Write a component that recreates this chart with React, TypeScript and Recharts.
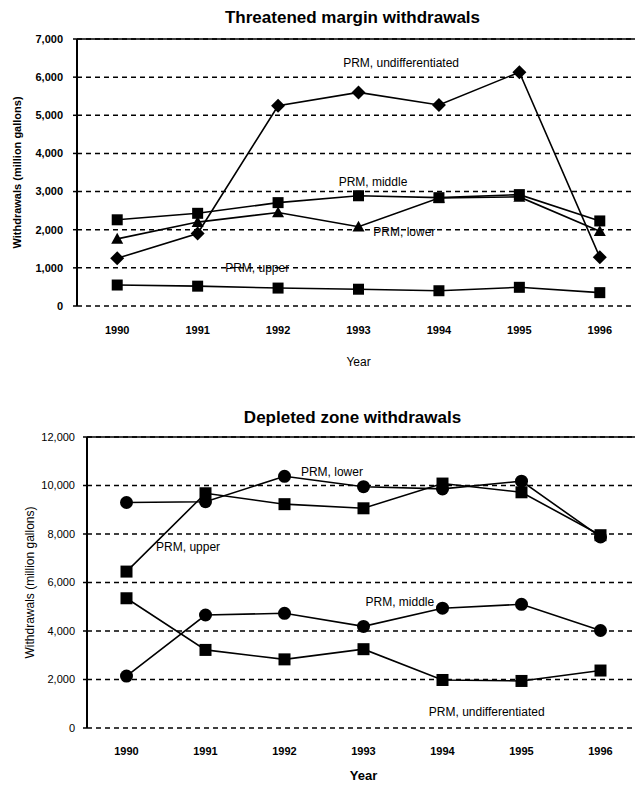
import React from "react";
import {
  LineChart,
  Line,
  XAxis,
  YAxis,
  CartesianGrid,
  ReferenceLine,
  ReferenceDot,
} from "recharts";

// years on the x axis
const years = [1990, 1991, 1992, 1993, 1994, 1995, 1996];
const bandEdges = [1990.5, 1991.5, 1992.5, 1993.5, 1994.5, 1995.5, 1996.5];

// Threatened margin withdrawals (million gallons)
const tmUndiff = [1250, 1900, 5250, 5600, 5270, 6130, 1280];
const tmMiddle = [2260, 2430, 2710, 2890, 2840, 2920, 2230];
const tmLower = [1760, 2200, 2450, 2080, 2830, 2860, 1960];
const tmUpper = [550, 520, 470, 440, 400, 490, 350];
const tmTicks = [0, 1000, 2000, 3000, 4000, 5000, 6000, 7000];

// Depleted zone withdrawals (million gallons)
const dzLower = [9300, 9330, 10380, 9950, 9860, 10180, 7880];
const dzUpper = [6450, 9680, 9230, 9060, 10080, 9720, 7950];
const dzMiddle = [2140, 4660, 4730, 4190, 4940, 5100, 4020];
const dzUndiff = [5350, 3220, 2830, 3250, 1980, 1940, 2370];
const dzTicks = [0, 2000, 4000, 6000, 8000, 10000, 12000];

const tmData = years.map((year, i) => ({
  year,
  undiff: tmUndiff[i],
  middle: tmMiddle[i],
  lower: tmLower[i],
  upper: tmUpper[i],
}));

const dzData = years.map((year, i) => ({
  year,
  undiff: dzUndiff[i],
  middle: dzMiddle[i],
  lower: dzLower[i],
  upper: dzUpper[i],
}));

const FONT = "'Liberation Sans', Arial, sans-serif";
const fmt = (v: number) => v.toLocaleString("en-US");

// marker shapes
const square = (size: number) => (p: any) => {
  if (p.cx == null || p.cy == null) return <g key={`sq-${p.index}`} />;
  return (
    <rect
      key={`sq-${p.index}`}
      x={p.cx - size / 2}
      y={p.cy - size / 2}
      width={size}
      height={size}
      fill="#000"
    />
  );
};

const circle = (r: number) => (p: any) => {
  if (p.cx == null || p.cy == null) return <g key={`ci-${p.index}`} />;
  return <circle key={`ci-${p.index}`} cx={p.cx} cy={p.cy} r={r} fill="#000" />;
};

const diamond = (r: number) => (p: any) => {
  if (p.cx == null || p.cy == null) return <g key={`di-${p.index}`} />;
  const { cx, cy } = p;
  return (
    <path
      key={`di-${p.index}`}
      d={`M${cx},${cy - r}L${cx + r},${cy}L${cx},${cy + r}L${cx - r},${cy}Z`}
      fill="#000"
    />
  );
};

const triangle = (r: number) => (p: any) => {
  if (p.cx == null || p.cy == null) return <g key={`tr-${p.index}`} />;
  const { cx, cy } = p;
  return (
    <path
      key={`tr-${p.index}`}
      d={`M${cx},${cy - r}L${cx + r},${cy + r * 0.8}L${cx - r},${cy + r * 0.8}Z`}
      fill="#000"
    />
  );
};

const lineProps = {
  stroke: "#000",
  strokeWidth: 1.6,
  isAnimationActive: false,
  activeDot: false as const,
};

const noteLabel = (value: string) => ({
  value,
  position: "center" as const,
  fill: "#000",
  fontSize: 12,
  fontFamily: FONT,
});

const Title: React.FC<{ text: string; top: number }> = ({ text, top }) => (
  <div
    style={{
      position: "absolute",
      top,
      left: 60,
      width: 585,
      textAlign: "center",
      fontFamily: FONT,
      fontWeight: "bold",
      fontSize: 17,
      lineHeight: "20px",
    }}
  >
    {text}
  </div>
);

const App: React.FC = () => {
  return (
    <div
      style={{
        position: "absolute",
        left: 0,
        top: 0,
        width: 635,
        height: 785,
        overflow: "hidden",
        background: "#fff",
      }}
    >
      <Title text="Threatened margin withdrawals" top={8} />
      <div style={{ position: "absolute", left: 0, top: 0 }}>
        <LineChart
          width={640}
          height={385}
          data={tmData}
          margin={{ top: 39, right: 0, left: 0, bottom: 0 }}
        >
          <CartesianGrid
            xAxisId="lbl"
            vertical={false}
            stroke="#000"
            strokeWidth={1.5}
            strokeDasharray="5 4"
          />
          <XAxis
            xAxisId="marks"
            dataKey="year"
            type="number"
            domain={[1989.5, 1996.5]}
            ticks={bandEdges}
            tickFormatter={() => ""}
            height={0}
            axisLine={{ stroke: "#000", strokeWidth: 2 }}
            tickLine={{ stroke: "#000", strokeWidth: 1.5 }}
            tickSize={4}
          />
          <XAxis
            xAxisId="lbl"
            dataKey="year"
            type="number"
            domain={[1989.5, 1996.5]}
            ticks={years}
            axisLine={false}
            tickLine={false}
            tickMargin={14}
            height={79}
            tick={{ fill: "#000", fontSize: 11, fontWeight: "bold", fontFamily: FONT }}
            label={{
              value: "Year",
              position: "insideBottom",
              offset: 19,
              fill: "#000",
              fontSize: 12,
              fontFamily: FONT,
            }}
          />
          <YAxis
            domain={[0, 7000]}
            ticks={tmTicks}
            width={77}
            tickFormatter={fmt}
            axisLine={{ stroke: "#000", strokeWidth: 2 }}
            tickLine={{ stroke: "#000", strokeWidth: 1.5 }}
            tickSize={4}
            tickMargin={10}
            tick={{ fill: "#000", fontSize: 11, fontWeight: "bold", fontFamily: FONT }}
            label={{
              value: "Withdrawals (million gallons)",
              angle: -90,
              position: "insideLeft",
              offset: 17,
              style: { textAnchor: "middle" },
              fill: "#000",
              fontSize: 11,
              fontWeight: "bold",
              fontFamily: FONT,
            }}
          />
          <ReferenceLine xAxisId="lbl" y={7000} stroke="#000" strokeWidth={1.5} />
          <Line xAxisId="lbl" dataKey="upper" dot={square(11)} {...lineProps} />
          <Line xAxisId="lbl" dataKey="lower" dot={triangle(6)} {...lineProps} />
          <Line xAxisId="lbl" dataKey="middle" dot={square(11)} {...lineProps} />
          <Line xAxisId="lbl" dataKey="undiff" dot={diamond(7)} {...lineProps} />
          <ReferenceDot xAxisId="lbl" x={1993.53} y={6380} r={0} label={noteLabel("PRM, undifferentiated")} />
          <ReferenceDot xAxisId="lbl" x={1993.18} y={3250} r={0} label={noteLabel("PRM, middle")} />
          <ReferenceDot xAxisId="lbl" x={1993.57} y={1940} r={0} label={noteLabel("PRM, lower")} />
          <ReferenceDot xAxisId="lbl" x={1991.74} y={1000} r={0} label={noteLabel("PRM, upper")} />
        </LineChart>
      </div>

      <Title text="Depleted zone withdrawals" top={408} />
      <div style={{ position: "absolute", left: 0, top: 385 }}>
        <LineChart
          width={640}
          height={400}
          data={dzData}
          margin={{ top: 52, right: 0, left: 0, bottom: 0 }}
        >
          <CartesianGrid
            xAxisId="lbl"
            vertical={false}
            stroke="#000"
            strokeWidth={1.5}
            strokeDasharray="5 4"
          />
          <XAxis
            xAxisId="marks"
            dataKey="year"
            type="number"
            domain={[1989.5, 1996.5]}
            ticks={bandEdges}
            tickFormatter={() => ""}
            height={0}
            axisLine={{ stroke: "#000", strokeWidth: 2 }}
            tickLine={{ stroke: "#000", strokeWidth: 1.5 }}
            tickSize={4}
          />
          <XAxis
            xAxisId="lbl"
            dataKey="year"
            type="number"
            domain={[1989.5, 1996.5]}
            ticks={years}
            axisLine={false}
            tickLine={false}
            tickMargin={13}
            height={57}
            tick={{ fill: "#000", fontSize: 11, fontWeight: "bold", fontFamily: FONT }}
            label={{
              value: "Year",
              position: "insideBottom",
              offset: 5,
              fill: "#000",
              fontSize: 13,
              fontWeight: "bold",
              fontFamily: FONT,
            }}
          />
          <YAxis
            domain={[0, 12000]}
            ticks={dzTicks}
            width={87}
            tickFormatter={fmt}
            axisLine={{ stroke: "#000", strokeWidth: 2 }}
            tickLine={{ stroke: "#000", strokeWidth: 1.5 }}
            tickSize={4}
            tickMargin={8}
            tick={{ fill: "#000", fontSize: 11, fontFamily: FONT }}
            label={{
              value: "Withdrawals (million gallons)",
              angle: -90,
              position: "insideLeft",
              offset: 30,
              style: { textAnchor: "middle" },
              fill: "#000",
              fontSize: 12,
              fontFamily: FONT,
            }}
          />
          <ReferenceLine xAxisId="lbl" y={12000} stroke="#000" strokeWidth={1.5} />
          <Line xAxisId="lbl" dataKey="undiff" dot={square(12)} {...lineProps} />
          <Line xAxisId="lbl" dataKey="middle" dot={circle(6.5)} {...lineProps} />
          <Line xAxisId="lbl" dataKey="upper" dot={square(12)} {...lineProps} />
          <Line xAxisId="lbl" dataKey="lower" dot={circle(6.5)} {...lineProps} />
          <ReferenceDot xAxisId="lbl" x={1992.6} y={10570} r={0} label={noteLabel("PRM, lower")} />
          <ReferenceDot xAxisId="lbl" x={1990.78} y={7480} r={0} label={noteLabel("PRM, upper")} />
          <ReferenceDot xAxisId="lbl" x={1993.46} y={5210} r={0} label={noteLabel("PRM, middle")} />
          <ReferenceDot xAxisId="lbl" x={1994.56} y={670} r={0} label={noteLabel("PRM, undifferentiated")} />
        </LineChart>
      </div>
    </div>
  );
};

export default App;
